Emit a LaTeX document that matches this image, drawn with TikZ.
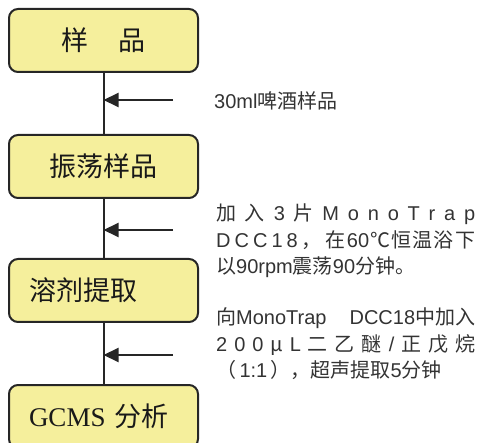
\documentclass[tikz,border=0pt]{standalone}
\usepackage{fontspec}
\setmainfont{Liberation Serif}
\newfontfamily\cjk{Noto Sans CJK SC}
\newfontfamily\lat{Liberation Sans}
\usetikzlibrary{arrows.meta}
\definecolor{boxfill}{HTML}{F5EF9C}
\definecolor{edge}{HTML}{262626}
\definecolor{txt}{HTML}{333333}
\newcommand{\widegap}{\hspace{0pt plus 2fill}}
\newcommand{\narrowgap}{\hspace{0pt plus 0.6fill}}
\begin{document}
\begin{tikzpicture}[x=1pt,y=-1pt,
  stepbox/.style={draw=edge, line width=2pt, fill=boxfill, rounded corners=9pt,
    minimum width=189pt, minimum height=63pt, inner sep=0pt, anchor=north west,
    text=black!90, font=\fontsize{27}{30}\selectfont},
  leftbox/.style={stepbox, align=left, text width=149pt, inner xsep=20pt},
  rtext/.style={anchor=west, align=left, inner sep=0pt, text=txt,
    font=\cjk\fontsize{20}{26.5}\selectfont},
  link/.style={draw=edge, line width=2pt},
  arr/.style={draw=edge, line width=2pt, -{Triangle[length=15pt,width=14pt]}}]
\useasboundingbox (0,0) rectangle (479,443);
\clip (0,0) rectangle (479,443);

\node[stepbox] (b1) at (8,8) {\cjk 样\hspace{31pt}品};
\node[stepbox] (b2) at (8,134) {\cjk 振荡样品};
\node[leftbox] (b3) at (8,258) {\cjk 溶剂提取};
\node[leftbox] (b4) at (8,384) {GCMS {\cjk 分析}};

\draw[link] (b1.south) -- (b2.north);
\draw[link] (b2.south) -- (b3.north);
\draw[link] (b3.south) -- (b4.north);

\coordinate (a1) at (173,100);
\coordinate (a2) at (173,230);
\coordinate (a3) at (173,355);
\draw[arr] (a1) -- (a1 -| b1.south);
\draw[arr] (a2) -- (a2 -| b2.south);
\draw[arr] (a3) -- (a3 -| b3.south);

\node[rtext] (t1) at (214,101) {{\lat 30ml}啤酒样品};
\node[rtext] (t2) at (216,241) {%
  \makebox[259pt][s]{加\hfill 入\hfill {\lat 3}\hfill 片\hfill {\lat M}\hfill {\lat o}\hfill {\lat n}\hfill {\lat o}\hfill {\lat T}\hfill {\lat r}\hfill {\lat a}\hfill {\lat p}}\\
  \makebox[259pt][s]{{\lat D}\widegap{\lat C}\widegap{\lat C}\widegap{\lat 1}\widegap{\lat 8}\widegap ，\widegap 在\narrowgap{\lat 60}\narrowgap ℃\narrowgap 恒\narrowgap 温\narrowgap 浴\narrowgap 下}\\
  以{\lat 90rpm}震荡{\lat 90}分钟。};
\node[rtext] (t3) at (216,344) {%
  \makebox[259pt][s]{向{\lat MonoTrap}\hfill {\lat DCC18}中加入}\\
  \makebox[259pt][s]{{\lat 2}\hfill {\lat 0}\hfill {\lat 0}\hfill μ\hfill {\lat L}\hfill 二\hfill 乙\hfill 醚\hfill {\lat /}\hfill 正\hfill 戊\hfill 烷}\\
  （\,{\lat 1:1}\,），超声提取{\lat 5}分钟};
\end{tikzpicture}
\end{document}
